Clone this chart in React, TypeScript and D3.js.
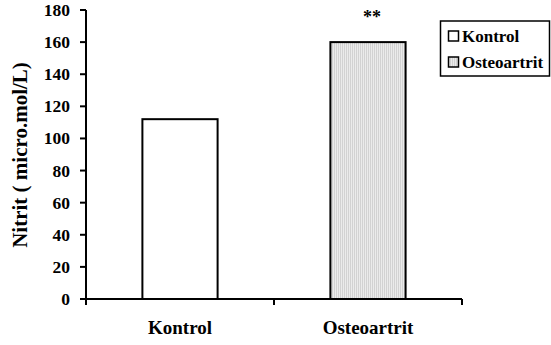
import React from "react";
import * as d3 from "d3";

const categories = ["Kontrol", "Osteoartrit"];
const values = [112, 160];
const yTicks = [0, 20, 40, 60, 80, 100, 120, 140, 160, 180];
const significance = ["", "**"];
const yTitle = "Nitrit ( micro.mol/L)";

const W = 551;
const H = 345;
const font = "'Times New Roman', 'Liberation Serif', Times, serif";

export default function App() {
  const x = d3.scaleBand<string>().domain(categories).range([86, 462]).padding(0);
  const y = d3.scaleLinear().domain([0, 180]).range([299, 10]);
  const bw = x.bandwidth() * 0.4;
  const fills = ["#ffffff", "url(#hatch)"];

  return (
    <svg width={W} height={H} style={{ position: "absolute", left: 0, top: 0, background: "#fff" }}>
      <defs>
        <pattern id="hatch" width="2" height="4" patternUnits="userSpaceOnUse">
          <rect width="2" height="4" fill="#ebebeb" />
          <rect width="1" height="4" fill="#d2d2d2" />
        </pattern>
      </defs>
      <rect width={W} height={H} fill="#fff" />
      <g style={{ fontFamily: font, fontWeight: "bold" }}>
        {/* bars */}
        {categories.map((c, i) => {
          const cx = (x(c) as number) + x.bandwidth() / 2;
          return (
            <g key={c}>
              <rect
                x={cx - bw / 2}
                y={y(values[i])}
                width={bw}
                height={y(0) - y(values[i])}
                fill={fills[i]}
                stroke="#000"
                strokeWidth={2}
              />
              {significance[i] && (
                <text x={cx + 4} y={y(values[i]) - 19} textAnchor="middle" fontSize={18}>
                  {significance[i]}
                </text>
              )}
              <text x={cx} y={334} textAnchor="middle" fontSize={19}>
                {c}
              </text>
            </g>
          );
        })}

        {/* y axis */}
        <line x1={86} x2={86} y1={y(180)} y2={y(0) + 6} stroke="#000" strokeWidth={2} />
        {yTicks.map((t) => (
          <g key={t}>
            <line x1={80} x2={86} y1={y(t)} y2={y(t)} stroke="#000" strokeWidth={2} />
            <text x={70} y={y(t)} dy="0.34em" textAnchor="end" fontSize={17.5}>
              {t}
            </text>
          </g>
        ))}

        {/* x axis */}
        <line x1={85} x2={462} y1={y(0)} y2={y(0)} stroke="#000" strokeWidth={2} />
        {[86, ...categories.map((c) => (x(c) as number) + x.bandwidth())].map((px, i) => (
          <line key={i} x1={px} x2={px} y1={y(0)} y2={y(0) + 6} stroke="#000" strokeWidth={2} />
        ))}

        {/* y title */}
        <text transform={`translate(27,155) rotate(-90)`} textAnchor="middle" fontSize={21}>
          {yTitle}
        </text>

        {/* legend */}
        <rect x={440.5} y={21} width={109} height={55} fill="#fff" stroke="#000" strokeWidth={1.5} />
        {categories.map((c, i) => (
          <g key={c}>
            <rect
              x={448.5}
              y={31 + i * 26}
              width={10}
              height={10}
              fill={fills[i]}
              stroke="#000"
              strokeWidth={1.5}
            />
            <text x={462} y={42 + i * 26} fontSize={17}>
              {c}
            </text>
          </g>
        ))}
      </g>
    </svg>
  );
}
